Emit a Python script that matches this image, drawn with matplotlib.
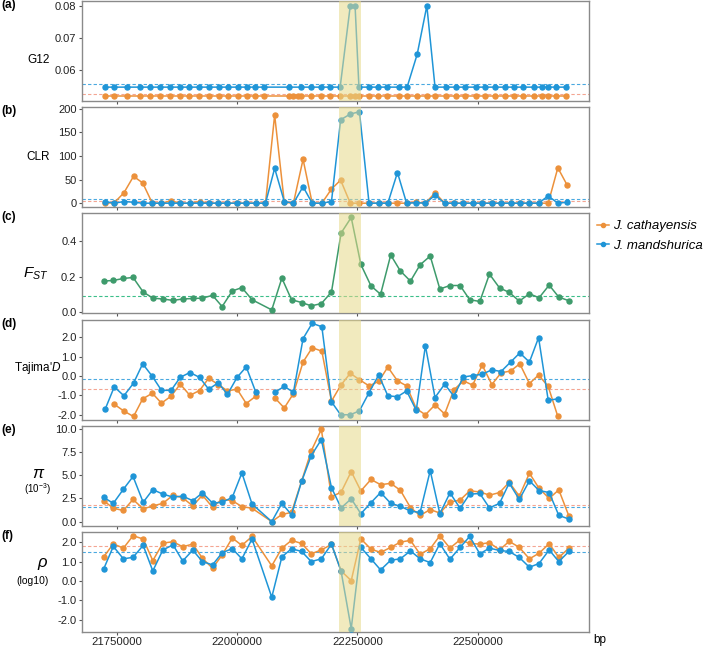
import numpy as np
import matplotlib.pyplot as plt
from matplotlib.lines import Line2D

plt.rcParams['font.family'] = ['Liberation Sans', 'DejaVu Sans']
plt.rcParams['mathtext.fontset'] = 'custom'
plt.rcParams['mathtext.it'] = 'Liberation Sans:italic'
plt.rcParams['mathtext.rm'] = 'Liberation Sans'

# window positions (kb)
g12_pos = [21726, 21744, 21771, 21798, 21819, 21840, 21861, 21881, 21900, 21921,
           21942, 21962, 21981, 22002, 22021, 22037, 22056, 22108, 22116, 22127,
           22133, 22154, 22174, 22193, 22214, 22235, 22245, 22253, 22274, 22293,
           22311, 22336, 22353, 22374, 22394, 22411, 22434, 22455, 22473, 22496,
           22515, 22536, 22556, 22575, 22594, 22617, 22633, 22646, 22662, 22683]
win_a = [21726, 21745, 21765, 21785, 21804, 21824, 21843, 21863, 21882, 21902,
         21922, 21941, 21961, 21980, 22000, 22019, 22039, 22059, 22078, 22098,
         22117, 22137, 22156, 22176, 22196, 22215, 22235, 22254, 22274, 22294,
         22313, 22333, 22352, 22372, 22391, 22411, 22431, 22450, 22470, 22489,
         22509, 22529, 22548, 22568, 22587, 22607, 22626, 22646, 22666, 22685]
win_b = [21723, 21743, 21764, 21784, 21805, 21825, 21846, 21867, 21887, 21908,
         21928, 21949, 21969, 21990, 22010, 22031, 22052, 22072, 22093, 22113,
         22134, 22154, 22175, 22196, 22216, 22237, 22257, 22278, 22298, 22319,
         22339, 22360, 22380, 22401, 22421, 22442, 22463, 22483, 22504, 22524,
         22545, 22565, 22586, 22607, 22627, 22648, 22668, 22689]
nan = np.nan

g12_cat = [0.0519, 0.0519, 0.0519, 0.0519, 0.0519, 0.0519, 0.0519, 0.0519, 0.0519, 0.0519,
           0.0519, 0.0519, 0.0519, 0.0519, 0.0519, 0.0519, 0.0519, 0.0519, 0.0519, 0.0519,
           0.0519, 0.0519, 0.0519, 0.0519, 0.0519, 0.0519, 0.0519, 0.0519, 0.0519, 0.0519,
           0.0519, 0.0519, 0.0519, 0.0519, 0.0519, 0.0519, 0.0519, 0.0519, 0.0519, 0.0519,
           0.0519, 0.0519, 0.0519, 0.0519, 0.0519, 0.0519, 0.0519, 0.0519, 0.0519, 0.0519]
g12_man = [0.0548, 0.0548, 0.0548, 0.0548, 0.0548, 0.0548, 0.0548, 0.0548, 0.0548, 0.0548,
           0.0548, 0.0548, 0.0548, 0.0548, 0.0548, 0.0548, 0.0548, 0.0548, nan, nan,
           0.0548, 0.0548, 0.0548, 0.0548, 0.0548, 0.080, 0.080, 0.0548, 0.0548, 0.0548,
           0.0548, 0.0548, 0.0548, 0.065, 0.080, 0.0548, 0.0548, 0.0548, 0.0548, 0.0548,
           0.0548, 0.0548, 0.0548, 0.0548, 0.0548, 0.0548, 0.0548, 0.0548, 0.0548, 0.0548]

clr_cat = [0, 1, 22, 57, 43, 0, 0, 5, 0, 0, 3.5, 0, 0, 0, 0, 0, 0, 0, 187, 2,
           0, 93, 0, 0, 30, 49, 0, 0, 0, 0, 0, 0, 0, 2, 0, 22, 0, 0, 0, 0,
           0, 0, 0, 0, 0, 0, 0, 0, 75, 39]
clr_man = [3.5, 0, 3.5, 2, 0, 0, 0, 0, 0, 0, 0, 0, 0, 0, 0, 0, 0, 0, 74, 3.5,
           0, 35, 0, 0, 3.5, 177, 189, 194, 0, 0, 0, 65, 0, 1, 0, 17, 0, 0, 0, 0,
           0, 0, 0, 0, 0, 0, 0, 15.5, 0, 2]

fst = [0.174, 0.178, 0.189, 0.195, 0.112, 0.077, 0.072, 0.064, 0.072, 0.075,
       0.077, 0.093, 0.029, 0.118, 0.137, 0.068, nan, 0.010, 0.191, 0.068,
       0.052, 0.033, 0.046, 0.112, 0.448, 0.537, 0.269, 0.147, 0.099, 0.323,
       0.232, 0.174, 0.267, 0.317, 0.129, 0.149, 0.149, 0.068, 0.058, 0.214,
       0.135, 0.110, 0.060, 0.102, 0.079, 0.151, 0.083, 0.062]

tajd_cat = [nan, -1.46, -1.81, -2.09, -1.18, -0.89, -1.40, -1.04, -0.42, -1.0,
            -0.75, -0.12, -0.44, -0.77, -0.68, -1.42, -1.04, nan, -1.12, -1.65,
            -0.91, 0.72, 1.46, 1.28, -1.30, -0.49, 0.14, -0.19, -0.51, -0.28,
            0.46, -0.25, -0.51, -1.68, -2.0, -1.49, -1.96, -0.72, -0.25, -0.47,
            0.56, -0.44, 0.16, 0.26, 0.63, -0.39, 0.05, -0.54, -2.09]
tajd_man = [-1.72, -0.56, -1.02, -0.37, 0.63, -0.02, -0.74, -0.74, -0.07, 0.18,
            -0.07, -0.68, -0.35, -0.95, -0.07, 0.47, -0.84, nan, -0.84, -0.54,
            -0.84, 1.93, 2.72, 2.54, -1.33, -2.0, -2.0, -1.8, -0.86, 0.05,
            -1.02, -1.07, -0.77, -1.77, 1.56, -1.11, -0.42, -1.04, -0.05, 0.02,
            0.09, 0.32, 0.23, 0.72, 1.19, 0.72, 1.98, -1.25, -1.18]

pi_cat = [2.25, 1.44, 1.2, 2.39, 1.37, 1.69, 1.97, 2.85, 2.57, 1.69,
          2.85, 1.55, 2.43, 2.25, 1.62, 1.44, nan, 0.0, 0.77, 0.99,
          4.37, 7.61, 9.93, 2.68, 3.17, 5.39, 3.31, 4.54, 3.98, 4.12,
          3.38, 1.51, 0.67, 1.3, 0.92, 2.11, 2.32, 3.31, 3.2, 2.85,
          3.13, 4.23, 2.75, 5.21, 3.59, 2.5, 3.42, 0.6]
pi_man = [2.61, 1.97, 3.49, 4.86, 2.08, 3.45, 2.96, 2.64, 2.75, 2.25,
          3.1, 2.0, 2.08, 2.61, 5.25, 1.9, nan, 0.0, 1.97, 0.74,
          4.33, 7.11, 8.84, 3.66, 1.48, 2.46, 0.85, 2.04, 3.13, 1.97,
          1.65, 1.13, 0.99, 5.49, 0.85, 3.1, 1.44, 2.96, 3.03, 1.48,
          1.97, 4.15, 2.39, 4.4, 3.35, 3.13, 0.67, 0.28]

rho_cat = [1.24, 1.91, 1.69, 2.33, 2.16, 1.05, 1.95, 2.02, 1.76, 1.9,
           1.17, 0.66, 1.34, 2.21, 1.83, 2.29, nan, 0.78, 1.69, 2.09,
           1.93, 1.4, 1.6, 1.88, 0.52, 0.02, 2.17, 1.64, 1.47, 1.73,
           2.0, 2.09, 1.38, 1.66, 2.33, 1.69, 2.12, 1.93, 1.9, 1.97,
           1.6, 2.04, 1.73, 1.14, 1.43, 1.92, 1.21, 1.69]
rho_man = [0.62, 1.78, 1.14, 1.22, 1.83, 0.52, 1.6, 1.86, 1.03, 1.59,
           1.0, 0.83, 1.45, 1.67, 1.14, 2.16, nan, -0.83, 1.24, 1.66,
           1.52, 1.0, 1.14, 1.9, 0.5, -2.45, 1.73, 1.14, 0.57, 1.07,
           1.14, 1.55, 1.14, 0.95, 1.92, 1.12, 1.73, 2.29, 1.4, 1.69,
           1.57, 1.52, 1.21, 0.71, 0.9, 1.6, 1.0, 1.52]

# genome-wide thresholds (dashed lines)
thr_g12 = {'cat': 0.0528, 'man': 0.0557}
thr_clr = {'cat': 4, 'man': 8}
thr_fst = 0.089
thr_tajd = {'cat': -0.65, 'man': -0.16}
thr_pi = {'cat': 1.75, 'man': 1.6}
thr_rho = {'cat': 1.79, 'man': 1.47}

region = (22212000, 22257000)
xticks = [21750000, 22000000, 22250000, 22500000]

c_cat, c_man, c_fst = '#EC913B', '#1F95D7', '#3E9B6C'
d_cat, d_man, d_fst = '#F4A592', '#4AA9E0', '#3CBF8A'


def draw(ax, pos, vals, color, connect=True):
    x = np.asarray(pos, float) * 1000
    y = np.asarray(vals, float)
    if connect:
        m = ~np.isnan(y)
        x, y = x[m], y[m]
    ax.plot(x, y, color=color, lw=1.1, marker='o', ms=3.6, zorder=3)


fig = plt.figure(figsize=(7.09, 6.48), dpi=100)
W, H = 709, 648
axes = []
for i in range(6):
    top = 1 + i * 106.2
    ax = fig.add_axes([82 / W, 1 - (top + 100) / H, 507 / W, 100 / H])
    ax.set_xlim(21678000, 22730700)
    ax.set_xticks(xticks)
    ax.set_xticklabels([])
    ax.axvspan(region[0], region[1], color='#E6D98A', alpha=0.55, lw=0, zorder=5)
    for s in ax.spines.values():
        s.set_color('#8A8A8A')
        s.set_linewidth(1.0)
    ax.tick_params(length=2.5, width=0.8, color='#555555', labelsize=8,
                   labelcolor='#222222', pad=1.5)
    axes.append(ax)

ax_a, ax_b, ax_c, ax_d, ax_e, ax_f = axes

# (a) G12
draw(ax_a, g12_pos, g12_cat, c_cat)
draw(ax_a, g12_pos, g12_man, c_man)
ax_a.axhline(thr_g12['cat'], color=d_cat, ls=(0, (3, 2)), lw=0.8, zorder=2)
ax_a.axhline(thr_g12['man'], color=d_man, ls=(0, (3, 2)), lw=0.8, zorder=2)
ax_a.set_ylim(0.0505, 0.0815)
ax_a.set_yticks([0.06, 0.07, 0.08])
ax_a.set_yticklabels(['0.06', '0.07', '0.08'])

# (b) CLR
draw(ax_b, win_a, clr_cat, c_cat)
draw(ax_b, win_a, clr_man, c_man)
ax_b.axhline(thr_clr['cat'], color=d_cat, ls=(0, (3, 2)), lw=0.8, zorder=2)
ax_b.axhline(thr_clr['man'], color=d_man, ls=(0, (3, 2)), lw=0.8, zorder=2)
ax_b.set_ylim(-8.5, 203.6)
ax_b.set_yticks([0, 50, 100, 150, 200])

# (c) Fst
draw(ax_c, win_b, fst, c_fst)
ax_c.axhline(thr_fst, color=d_fst, ls=(0, (3, 2)), lw=0.8, zorder=2)
ax_c.set_ylim(-0.01, 0.56)
ax_c.set_yticks([0.0, 0.2, 0.4])
ax_c.set_yticklabels(['0.0', '0.2', '0.4'])

# (d) Tajima's D
draw(ax_d, win_a[:49], tajd_cat, c_cat, connect=False)
draw(ax_d, win_a[:49], tajd_man, c_man, connect=False)
ax_d.axhline(thr_tajd['cat'], color=d_cat, ls=(0, (3, 2)), lw=0.8, zorder=2)
ax_d.axhline(thr_tajd['man'], color=d_man, ls=(0, (3, 2)), lw=0.8, zorder=2)
ax_d.set_ylim(-2.25, 2.91)
ax_d.set_yticks([-2, -1, 0, 1, 2])
ax_d.set_yticklabels(['-2.0', '-1.0', '0.0', '1.0', '2.0'])

# (e) pi
draw(ax_e, win_b, pi_cat, c_cat)
draw(ax_e, win_b, pi_man, c_man)
ax_e.axhline(thr_pi['cat'], color=d_cat, ls=(0, (3, 2)), lw=0.8, zorder=2)
ax_e.axhline(thr_pi['man'], color=d_man, ls=(0, (3, 2)), lw=0.8, zorder=2)
ax_e.set_ylim(-0.45, 10.32)
ax_e.set_yticks([0, 2.5, 5, 7.5, 10])
ax_e.set_yticklabels(['0.0', '2.5', '5.0', '7.5', '10.0'])

# (f) rho
draw(ax_f, win_b, rho_cat, c_cat)
draw(ax_f, win_b, rho_man, c_man)
ax_f.axhline(thr_rho['cat'], color=d_cat, ls=(0, (3, 2)), lw=0.8, zorder=2)
ax_f.axhline(thr_rho['man'], color=d_man, ls=(0, (3, 2)), lw=0.8, zorder=2)
ax_f.set_ylim(-2.62, 2.52)
ax_f.set_yticks([-2, -1, 0, 1, 2])
ax_f.set_yticklabels(['-2.0', '-1.0', '0.0', '1.0', '2.0'])
ax_f.set_xticklabels([str(t) for t in xticks], fontsize=8.2)
ax_f.tick_params(axis='x', pad=1)


def ftext(x, y, s, **kw):
    fig.text(x / W, 1 - y / H, s, ha='center', va='center', **kw)


# panel letters
for i, lab in enumerate(['(a)', '(b)', '(c)', '(d)', '(e)', '(f)']):
    fig.text(1 / W, 1 - (5 + i * 106.2) / H, lab, ha='left', va='center',
             fontsize=8.5, fontweight='bold')

# y labels
ftext(39, 60, 'G12', fontsize=8.5)
ftext(38, 157, 'CLR', fontsize=8.5)
ftext(36, 274, r'$F_{ST}$', fontsize=11)
ftext(38, 368, r"Tajima'$D$", fontsize=8.5)
ftext(38, 474, 'π', fontsize=12, style='italic')
ftext(37, 489, r'(10$^{-3}$)', fontsize=7)
ftext(42, 562, 'ρ', fontsize=12, style='italic')
ftext(33, 581, '(log10)', fontsize=7.5)
fig.text(593 / W, 1 - 640 / H, 'bp', ha='left', va='center', fontsize=8.5)

handles = [Line2D([], [], color=c_cat, lw=1.1, marker='o', ms=3.0),
           Line2D([], [], color=c_man, lw=1.1, marker='o', ms=3.0)]
fig.legend(handles, ['J. cathayensis', 'J. mandshurica'], loc='center left',
           bbox_to_anchor=(597 / W, 1 - 236 / H), frameon=False,
           prop={'style': 'italic', 'size': 9.5}, handlelength=0.9,
           handletextpad=0.35, labelspacing=0.55, borderpad=0,
           borderaxespad=0)

fig.savefig('out.png', dpi=100)
